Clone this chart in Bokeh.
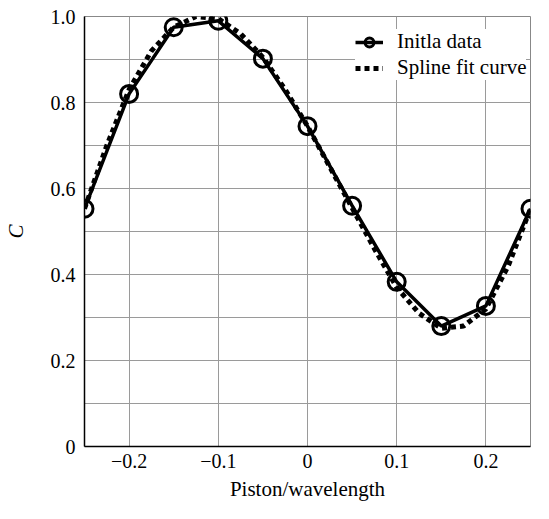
from bokeh.plotting import figure
from bokeh.models import Range1d, FixedTicker, Legend, LegendItem
from bokeh.embed import file_html
from bokeh.resources import INLINE

# Initial data
data_x = [-0.25, -0.2, -0.15, -0.1, -0.05, 0.0, 0.05, 0.1, 0.15, 0.2, 0.25]
data_c = [0.553, 0.82, 0.975, 0.99, 0.902, 0.745, 0.56, 0.383, 0.28, 0.327, 0.553]

# Spline fit curve
spline_x = [-0.25, -0.225, -0.2, -0.175, -0.15, -0.125, -0.1, -0.075, -0.05, -0.025,
            0.0, 0.025, 0.05, 0.075, 0.1, 0.125, 0.15, 0.175, 0.2, 0.225, 0.25]
spline_c = [0.553, 0.70, 0.83, 0.92, 0.975, 1.0, 0.995, 0.96, 0.905, 0.83,
            0.745, 0.65, 0.555, 0.46, 0.37, 0.31, 0.275, 0.28, 0.32, 0.42, 0.553]

x_ticks = [-0.2, -0.1, 0.0, 0.1, 0.2]
x_tick_labels = ["\u22120.2", "\u22120.1", "0", "0.1", "0.2"]
y_ticks = [0.0, 0.2, 0.4, 0.6, 0.8, 1.0]
y_tick_labels = ["0", "0.2", "0.4", "0.6", "0.8", "1.0"]
y_grid = [0.0, 0.1, 0.2, 0.3, 0.4, 0.5, 0.6, 0.7, 0.8, 0.9, 1.0]

FONT = "Liberation Serif"

p = figure(width=533, height=503, output_backend="svg", toolbar_location=None,
           x_range=Range1d(-0.25, 0.25), y_range=Range1d(0, 1.0),
           min_border_left=70, min_border_right=3, min_border_top=16, min_border_bottom=50)

p.outline_line_color = "#888888"
p.outline_line_width = 1

p.xaxis.ticker = FixedTicker(ticks=x_ticks)
p.xaxis.major_label_overrides = {t: l for t, l in zip(x_ticks, x_tick_labels)}
p.yaxis.ticker = FixedTicker(ticks=y_ticks)
p.yaxis.major_label_overrides = {t: l for t, l in zip(y_ticks, y_tick_labels)}

p.xgrid.ticker = FixedTicker(ticks=x_ticks)
p.ygrid.ticker = FixedTicker(ticks=y_grid)
for g in (p.xgrid, p.ygrid):
    g.grid_line_color = "#9a9a9a"
    g.grid_line_width = 1

for ax in (p.xaxis, p.yaxis):
    ax.axis_line_color = "black"
    ax.axis_line_width = 1.5
    ax.major_tick_line_color = None
    ax.minor_tick_line_color = None
    ax.major_tick_out = 0
    ax.major_tick_in = 0
    ax.minor_tick_out = 0
    ax.minor_tick_in = 0
    ax.major_label_text_font = FONT
    ax.major_label_text_font_size = "20px"
    ax.major_label_text_color = "black"
    ax.axis_label_text_font = FONT
    ax.axis_label_text_font_size = "21px"
    ax.axis_label_text_color = "black"

p.xaxis.axis_label = "Piston/wavelength"
p.xaxis.axis_label_text_font_style = "normal"
p.xaxis.major_label_standoff = 7
p.xaxis.axis_label_standoff = 6
p.yaxis.axis_label = "C"
p.yaxis.axis_label_text_font_style = "italic"
p.yaxis.major_label_standoff = 9
p.yaxis.axis_label_standoff = 20

r_spline = p.line(spline_x, spline_c, line_color="black", line_width=5, line_dash="5 4")
r_line = p.line(data_x, data_c, line_color="black", line_width=3.5)
r_pts = p.scatter(data_x, data_c, marker="circle", size=17, fill_color=None,
                  line_color="black", line_width=3)

legend = Legend(items=[LegendItem(label="Initla data", renderers=[r_line, r_pts]),
                       LegendItem(label="Spline fit curve", renderers=[r_spline])],
                location=(271, 366))
legend.label_text_font = FONT
legend.label_text_font_size = "21px"
legend.label_text_color = "black"
legend.border_line_color = None
legend.background_fill_color = "white"
legend.background_fill_alpha = 1.0
legend.glyph_width = 28
legend.glyph_height = 22
legend.label_height = 22
legend.label_standoff = 14
legend.spacing = 1
legend.padding = 8
legend.margin = 0
p.add_layout(legend, "center")

open("out.html", "w").write(file_html(p, INLINE))
